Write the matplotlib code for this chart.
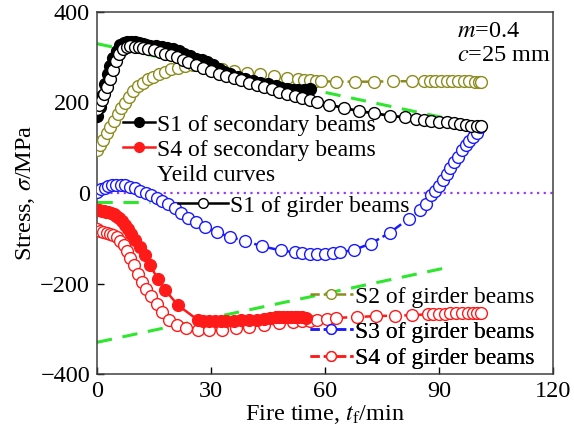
import matplotlib
matplotlib.use("Agg")
import matplotlib.pyplot as plt
from matplotlib.lines import Line2D

plt.rcParams['font.family'] = ['Liberation Serif', 'DejaVu Serif']
plt.rcParams['mathtext.fontset'] = 'stix'
plt.rcParams['font.size'] = 17.5

# ---- data (time in min, stress in MPa) ----
t_s1_sec = [0, 0.7, 1.4, 2.1, 2.8, 3.5, 4.3, 5.2, 6.1, 7.0, 8.0, 9.0, 10.0, 11.0, 12.0,
            13.0, 14.0, 15.5, 17.0, 18.5, 20.0, 21.5, 23.0, 24.5, 26.0, 27.5, 29, 30.5,
            32, 33.5, 35, 37, 39, 41, 43, 45, 47, 48.5, 50, 51.5, 53, 54.5, 56]
s1_sec = [170, 190, 215, 240, 262, 280, 298, 314, 326, 332, 334, 334, 333, 331, 329,
          327, 325, 325, 322, 320, 318, 313, 307, 302, 297, 293, 289, 283,
          275, 268, 263, 257, 252, 248, 244, 240, 236, 233, 230, 228, 227, 228, 229]

t_s4_sec = [0, 0.6, 1.2, 1.8, 2.4, 3.0, 3.7, 4.4, 5.1, 5.8, 6.6, 7.4, 8.2, 9.0, 10,
            11.2, 12.5, 14, 16, 18, 21.3, 26.6, 28, 29.5, 31, 32.5, 34, 36, 38, 40,
            42, 44, 45.5, 47, 48, 49, 50, 51, 52, 53, 54, 55]
s4_sec = [-38, -38, -39, -40, -41, -42, -44, -47, -51, -56, -62, -70, -79, -90, -103,
          -120, -138, -160, -190, -215, -248, -281, -282, -283, -283, -283, -282, -282, -281, -281,
          -280, -279, -277, -275, -275, -275, -275, -275, -275, -275, -275, -276]

t_s1_gir = [0, 0.6, 1.2, 1.9, 2.6, 3.4, 4.2, 5.0, 5.9, 6.8, 7.8, 8.8, 9.9, 11.0, 12.2,
            13.5, 15, 16.5, 18, 19.5, 21, 22.5, 24, 26, 28, 30, 32, 34, 36, 38, 40, 42,
            44, 46, 48, 50, 52, 54, 56, 58, 61, 65, 69, 73, 77, 81, 84, 86, 88, 90, 92,
            94, 95.5, 97, 98.5, 100, 101]
s1_gir = [185, 195, 205, 218, 235, 252, 272, 292, 308, 318, 323, 324, 323, 322, 321,
          319, 316, 312, 308, 304, 300, 295, 289, 282, 276, 270, 264, 259, 254, 249, 244, 239,
          234, 229, 224, 219, 214, 210, 205, 201, 195, 188, 181, 176, 171, 167, 163, 161, 160, 158, 156,
          154, 152, 150, 149, 148, 148]

t_s2_gir = [0, 0.8, 1.7, 2.6, 3.5, 4.4, 5.4, 6.4, 7.4, 8.5, 9.6, 10.8, 12, 13.3, 14.7,
            16.2, 17.8, 19.5, 21.3, 23.2, 25.2, 27.3, 30, 33, 36, 39.5, 43, 46.5, 50, 53,
            54.5, 56, 57.5, 59, 63, 68, 73, 78, 83, 86, 87.5, 89, 90.5, 92, 93.5, 95, 96.5,
            98, 99.5, 100.5, 101]
s2_gir = [95, 105, 118, 132, 146, 160, 174, 187, 200, 213, 226, 236, 244, 251, 257,
          263, 268, 273, 277, 281, 283, 282, 278, 274, 270, 266, 262, 258, 254, 251,
          250, 249, 248, 247, 246, 246, 246, 247, 247, 247, 248, 248, 248, 248, 248, 248, 247,
          247, 246, 246, 246]

t_s3_gir = [0, 1, 2, 3, 4, 5, 6.2, 7.4, 8.7, 10, 11.4, 12.8, 14.2, 15.7, 17.2, 18.8, 20.5,
            22.2, 24, 26, 28.5, 31.5, 35, 39, 43.5, 48.5, 52, 54, 56, 58, 60, 62, 64, 67.5,
            72, 77, 82, 85, 86.5, 88, 89, 90, 91, 92, 93, 94, 95, 96, 97, 98, 99, 100, 100.7]
s3_gir = [3, 8, 12, 15, 17, 18, 18, 17, 14, 10, 5, 0, -5, -11, -18, -25, -33,
          -45, -55, -64, -75, -87, -97, -106, -118, -127, -131, -133, -134, -134, -134, -133, -131, -126,
          -112, -88, -57, -38, -25, -5, 5, 15, 28, 42, 55, 68, 80, 95, 106, 115, 124, 133, 145]

t_s4_gir = [0, 0.8, 1.6, 2.5, 3.4, 4.3, 5.2, 6.1, 7.0, 7.9, 8.8, 9.8, 10.8, 11.9, 13,
            14.3, 15.7, 17.2, 19, 21, 23.5, 26.5, 29.5, 33, 36.5, 40, 44, 48, 51.5, 54,
            56, 58, 60.5, 63, 68.5, 73.5, 78.5, 83, 87, 88.5, 90, 91.5, 93, 94.5, 96, 97.5,
            99, 100, 101]
s4_gir = [-80, -84, -86, -88, -90, -93, -98, -105, -115, -128, -143, -160, -178, -196, -212,
          -228, -246, -262, -280, -292, -298, -302, -303, -302, -299, -296, -292, -288, -285, -283,
          -282, -280, -278, -276, -274, -272, -271, -270, -268, -267, -267, -267, -266, -266, -266, -266,
          -265, -265, -265]

t_yield = [0, 92]
yield_up = [330, 165]
yield_low = [-330, -165]
t_yield_stub = [0, 14]
yield_stub = [-20, -20]

xticks = [0, 30, 60, 90, 120]
yticks = [-400, -200, 0, 200, 400]

GREEN = '#2ee62e'
OLIVE = '#8c8c1e'
BLUE = '#1a1aff'
RED = '#ff1a1a'
PURPLE = '#9a3cf0'

fig = plt.figure(figsize=(5.74, 4.32), dpi=100)
ax = fig.add_axes([97 / 574, 58 / 432, 456 / 574, 362 / 432])

ms = 8.5
ax.axhline(0, color=PURPLE, ls=(0, (1, 2)), lw=1.6, zorder=1)
ax.plot(t_yield, yield_up, color=GREEN, ls=(0, (5, 3.5)), lw=2.2, zorder=2)
ax.plot(t_yield, yield_low, color=GREEN, ls=(0, (5, 3.5)), lw=2.2, zorder=2)
ax.plot(t_yield_stub, yield_stub, color=GREEN, ls=(0, (5, 3.5)), lw=2.2, zorder=2)

h_s2g, = ax.plot(t_s2_gir, s2_gir, color=OLIVE, ls='--', lw=1.8, marker='o', ms=ms,
                 mfc='white', mec=OLIVE, mew=1.0, zorder=3)
h_s3g, = ax.plot(t_s3_gir, s3_gir, color=BLUE, ls='--', lw=1.8, marker='o', ms=ms,
                 mfc='white', mec=BLUE, mew=1.0, zorder=3)
h_s4g, = ax.plot(t_s4_gir, s4_gir, color=RED, ls='--', lw=1.8, marker='o', ms=ms,
                 mfc='white', mec=RED, mew=1.0, zorder=3)
h_s4s, = ax.plot(t_s4_sec, s4_sec, color=RED, ls='-', lw=1.8, marker='o', ms=ms,
                 mfc=RED, mec=RED, zorder=4)
h_s1s, = ax.plot(t_s1_sec, s1_sec, color='black', ls='-', lw=1.8, marker='o', ms=ms,
                 mfc='black', mec='black', zorder=4)
h_s1g, = ax.plot(t_s1_gir, s1_gir, color='black', ls='-', lw=2.0, marker='o', ms=ms,
                 mfc='white', mec='black', mew=1.0, zorder=5)

ax.set_xlim(0, 120)
ax.set_ylim(-400, 400)
ax.set_xticks(xticks)
ax.set_yticks(yticks)
ax.tick_params(direction='in', length=5, width=1, pad=5, top=False, right=False)
for sp in ax.spines.values():
    sp.set_color('#404040')
    sp.set_linewidth(1.1)

ax.set_xlabel(r'Fire time, $t_{\rm f}$/min', labelpad=1)
ax.set_ylabel(r'Stress, $\sigma$/MPa', labelpad=2)

ax.text(0.79, 0.975, r'$m$=0.4', transform=ax.transAxes, va='top', ha='left')
ax.text(0.79, 0.91, r'$c$=25 mm', transform=ax.transAxes, va='top', ha='left')


def leg_handle(color, filled, ls='-'):
    return Line2D([], [], color=color, ls=ls, lw=1.8, marker='o', ms=7,
                  mfc=color if filled else 'white', mec=color, mew=1.0)


def add_leg(handles, labels, x_px, y_px, hlen, spacing=0.15):
    lg = ax.legend(handles, labels, loc='upper left',
                   bbox_to_anchor=(x_px / 574, 1 - y_px / 432),
                   bbox_transform=fig.transFigure, frameon=False, borderpad=0,
                   borderaxespad=0, handlelength=hlen, handletextpad=0.1,
                   labelspacing=spacing, fontsize=17)
    ax.add_artist(lg)
    return lg


add_leg([leg_handle('black', True), leg_handle(RED, True), Line2D([], [], lw=0)],
        ['S1 of secondary beams', 'S4 of secondary beams', 'Yeild curves'], 123, 114, 1.35)
add_leg([leg_handle('black', False)], ['S1 of girder beams'], 178, 195, 2.1)
add_leg([leg_handle(OLIVE, False, '--')], ['S2 of girder beams'], 310, 286, 1.8)
add_leg([leg_handle(BLUE, False, '--'), leg_handle(RED, False, '--')],
        ['S3 of girder beams', 'S4 of girder beams'], 310, 321, 1.8, spacing=0.2)

fig.savefig('out.png', dpi=100)
